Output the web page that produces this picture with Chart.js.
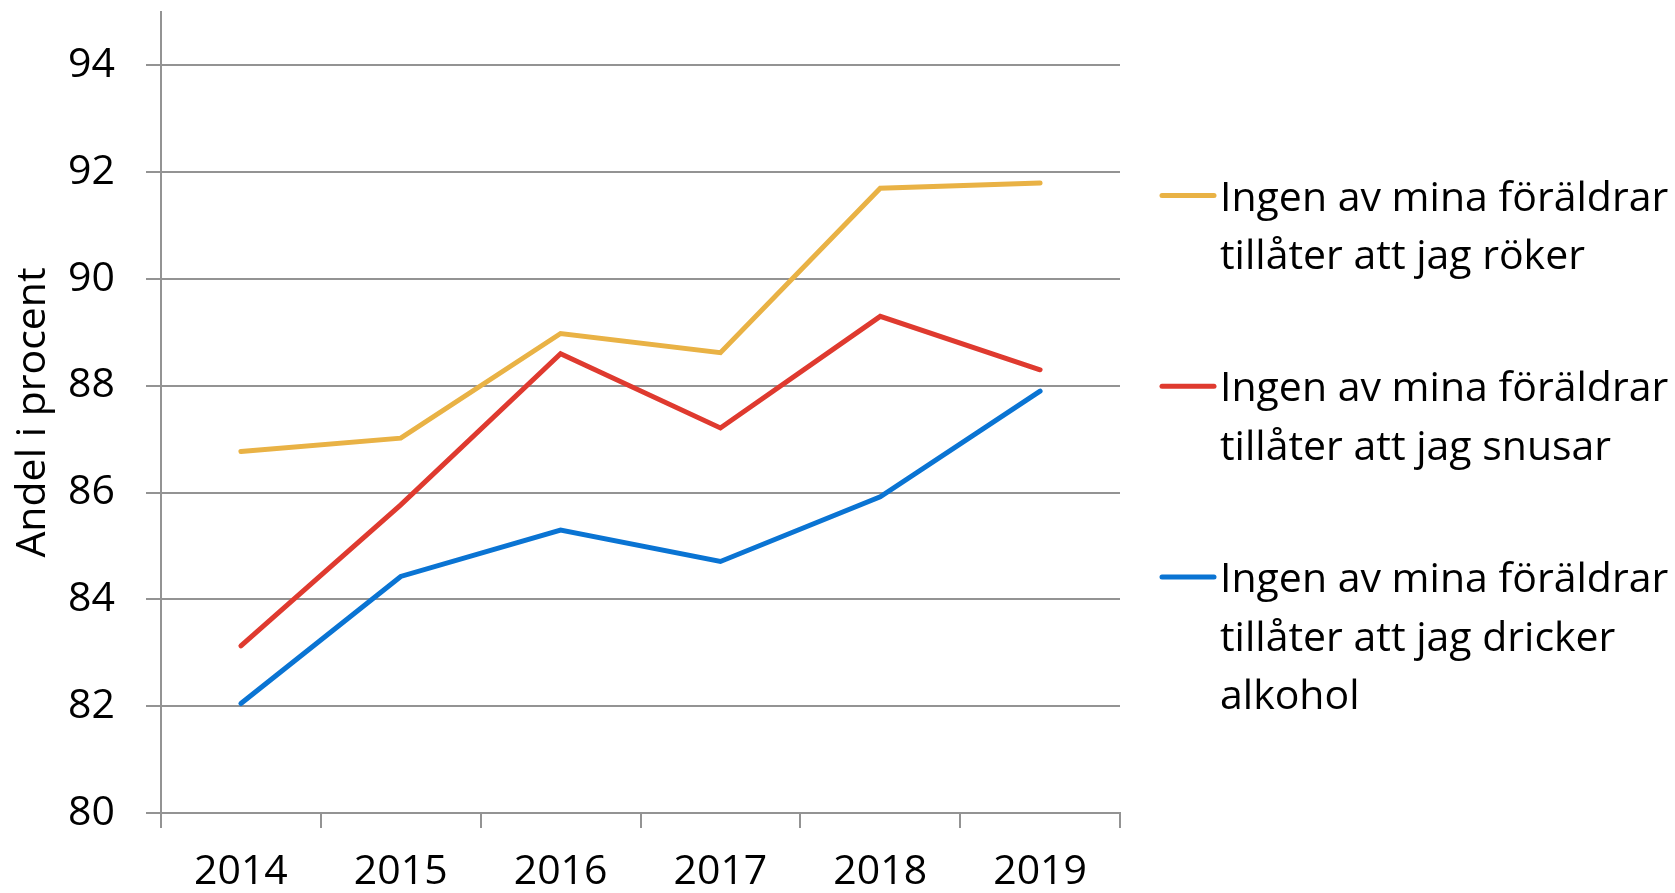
<!DOCTYPE html>
<html>
<head>
<meta charset="utf-8">
<script src="https://cdn.jsdelivr.net/npm/chart.js@4/dist/chart.umd.min.js"></script>
<style>
  html, body { margin: 0; padding: 0; background: #fff; }
  #c { display: block; }
</style>
</head>
<body>
<canvas id="c" width="1675" height="893"></canvas>
<script>
const years = ['2014', '2015', '2016', '2017', '2018', '2019'];
const rokerValues  = [86.77, 87.02, 88.98, 88.62, 91.70, 91.80];
const snusarValues = [83.13, 85.77, 88.60, 87.21, 89.30, 88.30];
const drickerValues = [82.05, 84.43, 85.30, 84.71, 85.92, 87.90];
const seriesNames = [
  ['Ingen av mina föräldrar', 'tillåter att jag röker'],
  ['Ingen av mina föräldrar', 'tillåter att jag snusar'],
  ['Ingen av mina föräldrar', 'tillåter att jag dricker', 'alkohol']
];
const seriesColors = ['#E9B245', '#DF3A2F', '#0A74D3'];
const yTitle = 'Andel i procent';
const yMin = 80, yMax = 95, yStep = 2;

const FONT = "'Open Sans', 'DejaVu Sans', sans-serif";
const WEIGHT = 400;
const GRID = '#939393';

const legendPlugin = {
  id: 'sideLegend',
  afterDraw(chart) {
    const ctx = chart.ctx;
    ctx.save();
    ctx.font = WEIGHT + ' 41px ' + FONT;
    ctx.fillStyle = '#000';
    ctx.textAlign = 'left';
    ctx.textBaseline = 'alphabetic';
    chart.data.datasets.forEach((ds, i) => {
      const y0 = 195.5 + i * 190.7;
      ctx.strokeStyle = ds.borderColor;
      ctx.lineWidth = 5;
      ctx.lineCap = 'round';
      ctx.beginPath();
      ctx.moveTo(1162, y0);
      ctx.lineTo(1214, y0);
      ctx.stroke();
      seriesNames[i].forEach((line, j) => {
        ctx.fillText(line, 1220, y0 + 15 + j * 58.7);
      });
    });
    ctx.restore();
  }
};

const datasets = [rokerValues, snusarValues, drickerValues].map((vals, i) => ({
  label: seriesNames[i].join(' '),
  data: vals,
  borderColor: seriesColors[i],
  backgroundColor: seriesColors[i],
  borderWidth: 5,
  pointRadius: 0,
  pointHoverRadius: 0,
  borderCapStyle: 'round',
  borderJoinStyle: 'miter',
  tension: 0,
  fill: false,
  order: 2 - i
}));

const tickFont = { family: FONT, size: 41, weight: WEIGHT };

new Chart(document.getElementById('c'), {
  type: 'line',
  data: { labels: years, datasets },
  options: {
    responsive: false,
    animation: false,
    events: [],
    layout: { padding: { top: 12, right: 555, left: 0, bottom: 0 } },
    plugins: { legend: { display: false }, tooltip: { enabled: false }, title: { display: false } },
    scales: {
      x: {
        type: 'category',
        offset: true,
        grid: { offset: true, drawOnChartArea: false, drawTicks: true, tickLength: 15, color: GRID, lineWidth: 2 },
        border: { display: true, color: GRID, width: 2 },
        ticks: { font: tickFont, color: '#000', padding: 20, maxRotation: 0 },
        afterFit(scale) { scale.height = 80; scale.paddingLeft = 0; scale.paddingRight = 0; }
      },
      y: {
        min: yMin,
        max: yMax,
        ticks: { stepSize: yStep, font: tickFont, color: '#000', padding: 31 },
        afterBuildTicks(scale) { scale.ticks = scale.ticks.filter(t => t.value % yStep === 0); },
        grid: { drawTicks: true, tickLength: 15, color: GRID, lineWidth: 2 },
        border: { display: true, color: GRID, width: 2 },
        title: { display: true, text: yTitle, font: tickFont, color: '#000', padding: { top: 9, bottom: 0 } },
        afterFit(scale) { scale.width = 161; scale.paddingTop = 0; scale.paddingBottom = 0; }
      }
    }
  },
  plugins: [legendPlugin]
});
</script>
</body>
</html>
